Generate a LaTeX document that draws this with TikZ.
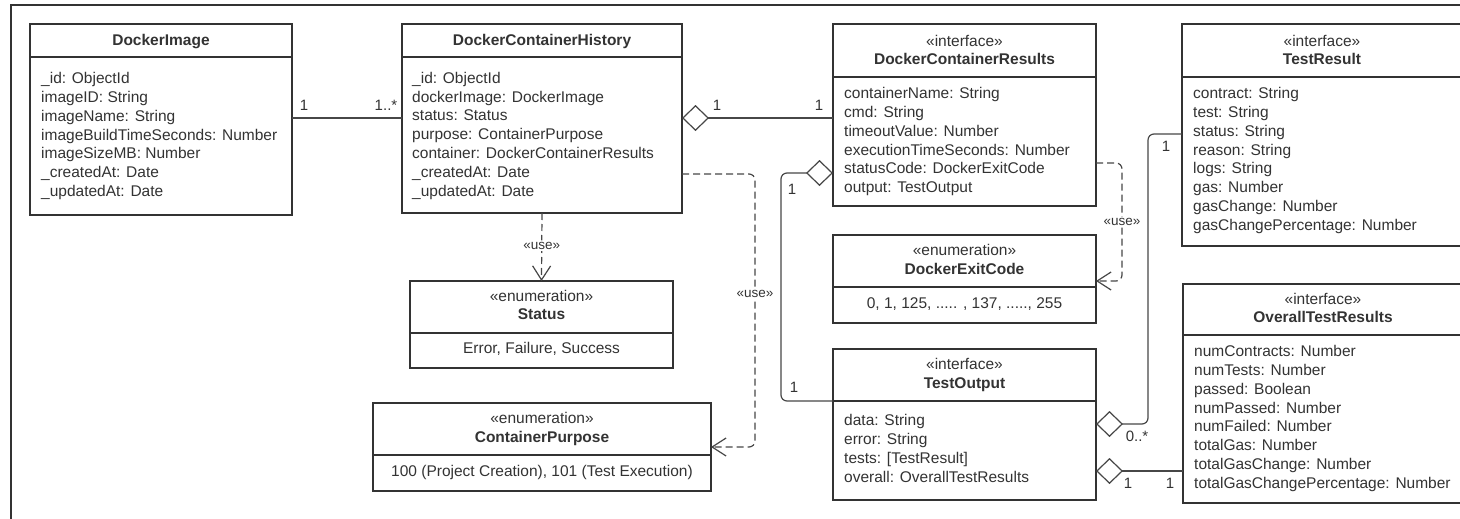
\documentclass[tikz,border=0pt]{standalone}
\usepackage{fontspec}
\setmainfont{Liberation Sans}
\usetikzlibrary{arrows.meta,calc}
\definecolor{boxc}{HTML}{333333}
\definecolor{linec}{HTML}{474747}
\definecolor{txt}{HTML}{333333}
\newcommand\uf{\fontsize{15.5}{18.8}\selectfont}
\newcommand\lblf{\fontsize{13.5}{16}\selectfont}
\newcommand\multf{\fontsize{15}{18}\selectfont}
\begin{document}
\begin{tikzpicture}[x=1pt,y=-1pt,
 box/.style={draw=boxc,line width=1.9pt,fill=white,inner sep=0pt,outer sep=0pt,anchor=north west},
 attr/.style={anchor=north west,align=left,inner sep=0pt,font=\uf,text=txt},
 stereo/.style={anchor=base,inner sep=0pt,font=\uf,text=txt},
 ttl/.style={anchor=base,inner sep=0pt,font=\uf\bfseries,text=txt},
 vals/.style={anchor=base,inner sep=0pt,font=\uf,text=txt},
 divider/.style={draw=boxc,line width=1.9pt},
 conn/.style={draw=linec,line width=1.2pt,rounded corners=6pt},
 agg/.style={conn,{Diamond[open,length=27pt,width=26pt,fill=white]}-},
 dep/.style={conn,dash pattern=on 7pt off 4pt,-{Straight Barb[length=14pt,width=18pt]}},
 mult/.style={inner sep=0pt,font=\multf,text=txt},
 usel/.style={inner sep=1.5pt,fill=white,font=\lblf,text=txt},
]
\clip (0,0) rectangle (1460,519);
\fill[white] (0,0) rectangle (1460,519);
\draw[boxc,line width=2.4pt] (11,5) rectangle (1520,580);

% ---------- boxes ----------
\node[box,minimum width=262pt,minimum height=191pt] (di) at (30,24) {};
\draw[divider] ($(di.north west)+(0,33)$) -- ($(di.north east)+(0,33)$);
\node[ttl] (diT) at ($(di.north)+(0,21.5)$) {DockerImage};
\node[attr] (diA) at ($(di.north west)+(11,46.3)$) {\strut\_id: ObjectId\\imageID: String\\imageName: String\\imageBuildTimeSeconds: Number\\imageSizeMB: Number\\\_createdAt: Date\\\_updatedAt: Date};

\node[box,minimum width=280pt,minimum height=189pt] (dch) at (402,24) {};
\draw[divider] ($(dch.north west)+(0,33)$) -- ($(dch.north east)+(0,33)$);
\node[ttl] (dchT) at ($(dch.north)+(0,21.5)$) {DockerContainerHistory};
\node[attr] (dchA) at ($(dch.north west)+(10,46)$) {\strut\_id: ObjectId\\dockerImage: DockerImage\\status: Status\\purpose: ContainerPurpose\\container: DockerContainerResults\\\_createdAt: Date\\\_updatedAt: Date};

\node[box,minimum width=263pt,minimum height=182pt] (dcr) at (833,24) {};
\draw[divider] ($(dcr.north west)+(0,53)$) -- ($(dcr.north east)+(0,53)$);
\node[stereo] (dcrS) at ($(dcr.north)+(0,22.5)$) {«interface»};
\node[ttl] (dcrT) at ($(dcr.north)+(0,40.5)$) {DockerContainerResults};
\node[attr] (dcrA) at ($(dcr.north west)+(11,61.3)$) {\strut containerName: String\\cmd: String\\timeoutValue: Number\\executionTimeSeconds: Number\\statusCode: DockerExitCode\\output: TestOutput};

\node[box,minimum width=280pt,minimum height=222pt] (tr) at (1182,24) {};
\draw[divider] ($(tr.north west)+(0,53)$) -- ($(tr.north east)+(0,53)$);
\node[stereo] (trS) at ($(tr.north)+(0,22.5)$) {«interface»};
\node[ttl] (trT) at ($(tr.north)+(0,40.5)$) {TestResult};
\node[attr] (trA) at ($(tr.north west)+(11,61.3)$) {\strut contract: String\\test: String\\status: String\\reason: String\\logs: String\\gas: Number\\gasChange: Number\\gasChangePercentage: Number};

\node[box,minimum width=263pt,minimum height=87pt] (st) at (410,281) {};
\draw[divider] ($(st.north west)+(0,52)$) -- ($(st.north east)+(0,52)$);
\node[stereo] (stS) at ($(st.north)+(0,20.5)$) {«enumeration»};
\node[ttl] (stT) at ($(st.north)+(0,38.5)$) {Status};
\node[vals] (stV) at ($(st.north)+(0,72.5)$) {Error, Failure, Success};

\node[box,minimum width=338pt,minimum height=88pt] (cp) at (373,403) {};
\draw[divider] ($(cp.north west)+(0,52)$) -- ($(cp.north east)+(0,52)$);
\node[stereo] (cpS) at ($(cp.north)+(0,20.5)$) {«enumeration»};
\node[ttl] (cpT) at ($(cp.north)+(0,39.5)$) {ContainerPurpose};
\node[vals] (cpV) at ($(cp.north)+(0,73.5)$) {100 (Project Creation), 101 (Test Execution)};

\node[box,minimum width=263pt,minimum height=88pt] (dec) at (833,235) {};
\draw[divider] ($(dec.north west)+(0,52)$) -- ($(dec.north east)+(0,52)$);
\node[stereo] (decS) at ($(dec.north)+(0,20.5)$) {«enumeration»};
\node[ttl] (decT) at ($(dec.north)+(0,39.5)$) {DockerExitCode};
\node[vals] (decV) at ($(dec.north)+(0,73.5)$) {0, 1, 125, ..... , 137, ....., 255};

\node[box,minimum width=263pt,minimum height=151pt] (to) at (833,349) {};
\draw[divider] ($(to.north west)+(0,52)$) -- ($(to.north east)+(0,52)$);
\node[stereo] (toS) at ($(to.north)+(0,20.5)$) {«interface»};
\node[ttl] (toT) at ($(to.north)+(0,39.5)$) {TestOutput};
\node[attr] (toA) at ($(to.north west)+(11,63.3)$) {\strut data: String\\error: String\\tests: [TestResult]\\overall: OverallTestResults};

\node[box,minimum width=280pt,minimum height=219pt] (otr) at (1183,284) {};
\draw[divider] ($(otr.north west)+(0,51)$) -- ($(otr.north east)+(0,51)$);
\node[stereo] (otrS) at ($(otr.north)+(0,20.5)$) {«interface»};
\node[ttl] (otrT) at ($(otr.north)+(0,38.5)$) {OverallTestResults};
\node[attr] (otrA) at ($(otr.north west)+(11,59.3)$) {\strut numContracts: Number\\numTests: Number\\passed: Boolean\\numPassed: Number\\numFailed: Number\\totalGas: Number\\totalGasChange: Number\\totalGasChangePercentage: Number};

% ---------- connectors ----------
\coordinate (a1) at ($(di.north east)+(0,94)$);
\draw[conn] (a1) -- (a1 -| dch.west);
\node[mult] (m1) at (304,105) {1};
\node[mult] (m2) at (386,105) {1..*};

\coordinate (a2) at ($(dch.north east)+(0,94)$);
\draw[agg] (a2) -- (a2 -| dcr.west);
\node[mult] (m3) at (717,105) {1};
\node[mult] (m4) at (819,105) {1};

\draw[dep] (dch.south) -- (st.north) node[usel,pos=0.48] (u1) {«use»};

\coordinate (a3) at ($(dch.north east)+(0,150)$);
\draw[dep] (a3) -| ($(cp.east)+(44,0)$) -- (cp.east);
\node[usel] (u2) at (755,294) {«use»};

\coordinate (a4) at ($(dcr.north east)+(0,139)$);
\coordinate (a4b) at ($(dec.north east)+(0,46)$);
\draw[dep] (a4) -| ($(a4b)+(26,0)$) -- (a4b);
\node[usel] (u3) at (1122,222) {«use»};

\coordinate (a5) at ($(dcr.north west)+(0,149)$);
\coordinate (a6) at ($(to.north west)+(0,52)$);
\draw[agg] (a5) -| ($(a6)+(-52,0)$) -- (a6);
\node[mult] (m5) at (792,189) {1};
\node[mult] (m6) at (794,387) {1};

\coordinate (a7) at ($(to.north east)+(0,75)$);
\coordinate (a8) at ($(tr.north west)+(0,110)$);
\draw[agg] (a7) -| ($(a8)+(-34,0)$) -- (a8);
\node[mult] (m7) at (1166,146) {1};
\node[mult] (m8) at (1137,436) {0..*};

\coordinate (a9) at ($(to.north east)+(0,122)$);
\draw[agg] (a9) -- (a9 -| otr.west);
\node[mult] (m9) at (1128,483) {1};
\node[mult] (m10) at (1170,483) {1};
\end{tikzpicture}
\end{document}
